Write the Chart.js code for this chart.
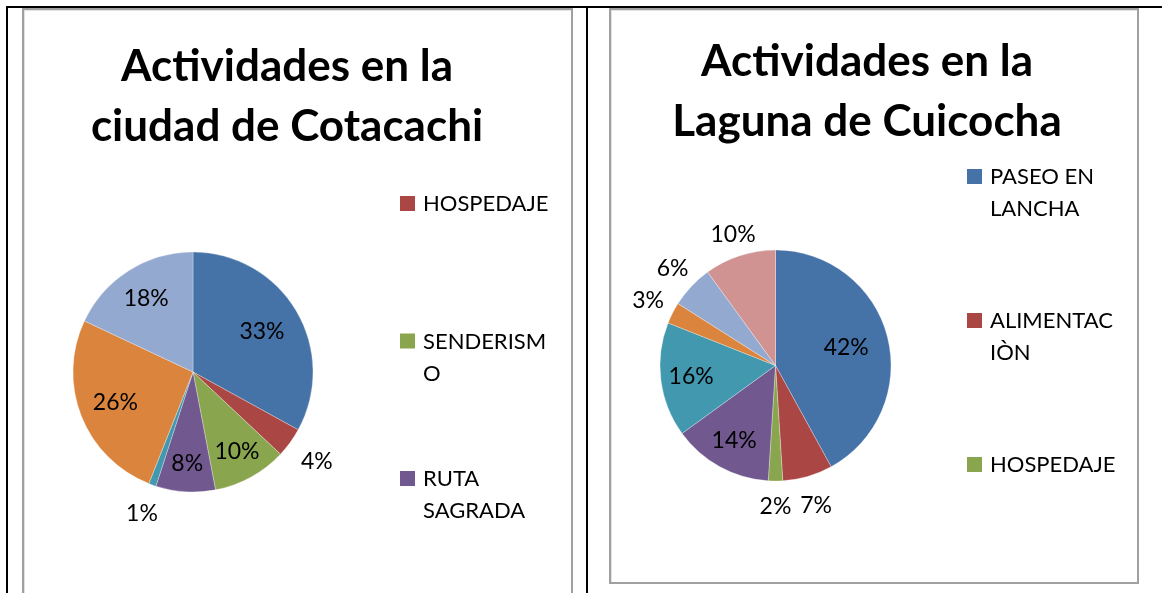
<!DOCTYPE html>
<html lang="es">
<head>
<meta charset="UTF-8">
<title>Actividades en Cotacachi y Cuicocha</title>
<script src="https://cdn.jsdelivr.net/npm/chart.js"></script>
<style>
  body { margin: 0; width: 1162px; height: 593px; overflow: hidden; background: #fff; position: relative; }
  .rule { position: absolute; background: #000; }
  .box { position: absolute; border: 2px solid #a0a0a0; box-sizing: border-box; box-shadow: inset 1px 1px 0 #e2e2e2; }
  canvas { position: absolute; }
</style>
</head>
<body>
  <!-- table lines -->
  <div class="rule" style="left:6px; top:6px; width:1156px; height:2px;"></div>
  <div class="rule" style="left:6px; top:6px; width:2px; height:587px;"></div>
  <div class="rule" style="left:586px; top:6px; width:2px; height:587px;"></div>

  <div class="box" style="left:22px; top:8px; width:551px; height:600px;"></div>
  <div class="box" style="left:609px; top:8px; width:530px; height:576px;"></div>

  <canvas id="cotacachi" width="547" height="583" style="left:24px; top:10px;"></canvas>
  <canvas id="cuicocha" width="526" height="572" style="left:611px; top:10px;"></canvas>

<script>
// data
const leftTitle = ['Actividades en la', 'ciudad de Cotacachi'];
const leftCategories = ['', 'HOSPEDAJE', 'SENDERISMO', 'RUTA SAGRADA', '', '', ''];
const leftValues = [33, 4, 10, 8, 1, 26, 18];

const rightTitle = ['Actividades en la', 'Laguna de Cuicocha'];
const rightCategories = ['PASEO EN LANCHA', 'ALIMENTACIÒN', 'HOSPEDAJE', '', '', '', '', ''];
const rightValues = [42, 7, 2, 14, 16, 3, 6, 10];

// excel 2007 palette
const palette = ['#4572A7', '#AA4643', '#89A54E', '#71588F', '#4198AF', '#DB843D', '#93A9CF', '#D19392'];

// wraps like the original legend (about 9 characters per line)
function wrapLabel(text, max) {
    const lines = [];
    let cur = '';
    text.split(' ').forEach(function (w) {
        const cand = cur ? cur + ' ' + w : w;
        if (cand.length <= max) { cur = cand; return; }
        if (cur) lines.push(cur);
        while (w.length > max) { lines.push(w.slice(0, max)); w = w.slice(max); }
        cur = w;
    });
    if (cur) lines.push(cur);
    return lines;
}

const sketchPlugin = {
    id: 'sketch',
    afterDraw(chart, args, opts) {
        const ctx = chart.ctx;
        ctx.save();
        ctx.fillStyle = '#000';

        // title
        ctx.font = 'bold 44px Lato';
        ctx.textAlign = 'center';
        ctx.textBaseline = 'alphabetic';
        opts.title.forEach(function (t, i) {
            ctx.fillText(t, opts.titleX, opts.titleY + i * 60);
        });

        // legend (only the entries that the original shows)
        const labels = chart.data.labels;
        const colors = chart.data.datasets[0].backgroundColor;
        ctx.textAlign = 'left';
        ctx.font = '22px Lato';
        for (let k = 0; k < opts.legendCount; k++) {
            const i = opts.legendFrom + k;
            const y = opts.legendY + k * opts.legendGap;
            ctx.fillStyle = colors[i];
            ctx.fillRect(opts.legendX, y - 15, 15, 15);
            ctx.fillStyle = '#000';
            wrapLabel(labels[i], 9).forEach(function (line, j) {
                ctx.fillText(line, opts.legendX + 23, y + j * 32);
            });
        }

        // percentage labels, best-fit style
        const total = chart.data.datasets[0].data.reduce((a, b) => a + b, 0);
        ctx.font = '23px Lato';
        ctx.textAlign = 'center';
        ctx.textBaseline = 'middle';
        chart.getDatasetMeta(0).data.forEach(function (arc, i) {
            const p = arc.getProps(['x', 'y', 'startAngle', 'endAngle', 'outerRadius'], true);
            const mid = (p.startAngle + p.endAngle) / 2;
            const pct = Math.round(chart.data.datasets[0].data[i] / total * 100);
            const txt = pct + '%';
            const c = Math.cos(mid), s = Math.sin(mid);
            let d;
            if (opts.outside.indexOf(i) >= 0) {
                const w = ctx.measureText(txt).width;
                d = p.outerRadius + 12 + Math.abs(c) * w / 2 + (s > 0 ? s * 14 : -s * 3);
            } else {
                d = p.outerRadius * (0.8 - 0.004 * pct);
            }
            ctx.fillText(txt, p.x + c * d, p.y + s * d);
        });
        ctx.restore();
    }
};

function makePie(id, labels, values, radius, padding, sketch) {
    return new Chart(document.getElementById(id), {
        type: 'pie',
        data: {
            labels: labels,
            datasets: [{
                data: values,
                backgroundColor: palette.slice(0, values.length),
                borderColor: 'rgba(255,255,255,0.6)',
                borderWidth: 0.5,
                hoverOffset: 0,
                radius: radius
            }]
        },
        options: {
            responsive: false,
            animation: false,
            devicePixelRatio: 1,
            events: [],
            layout: { padding: padding },
            plugins: {
                legend: { display: false },
                title: { display: false },
                tooltip: { enabled: false },
                sketch: sketch
            }
        },
        plugins: [sketchPlugin]
    });
}

makePie('cotacachi', leftCategories, leftValues, 120,
    { left: 49, top: 242, right: 258, bottom: 101 },
    { title: leftTitle, titleX: 263, titleY: 71,
      legendFrom: 1, legendCount: 3, legendX: 376, legendY: 201, legendGap: 137.5,
      outside: [1, 4] });

makePie('cuicocha', rightCategories, rightValues, 115.5,
    { left: 49, top: 240, right: 246, bottom: 101 },
    { title: rightTitle, titleX: 256, titleY: 66,
      legendFrom: 0, legendCount: 3, legendX: 356, legendY: 174, legendGap: 144,
      outside: [1, 2, 5, 6, 7] });
</script>
</body>
</html>
